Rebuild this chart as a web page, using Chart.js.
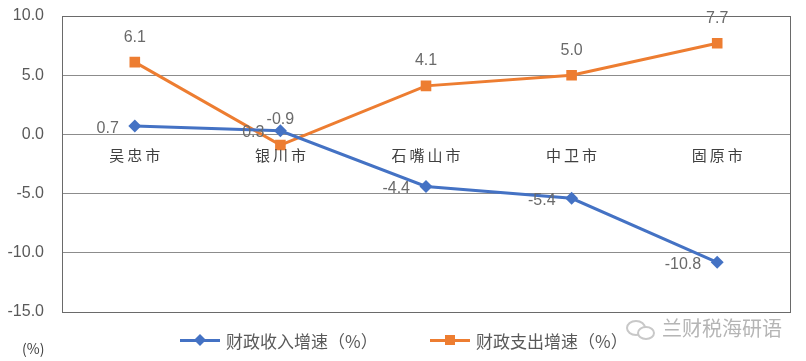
<!DOCTYPE html>
<html lang="zh">
<head>
    <meta charset="UTF-8">
    <title>财政收支增速</title>
    <script src="https://cdn.jsdelivr.net/npm/chart.js"></script>
    <style>
        * { margin: 0; padding: 0; box-sizing: border-box; }
        body {
            width: 806px;
            height: 361px;
            background: #ffffff;
            font-family: 'Liberation Sans', 'Noto Sans CJK SC', sans-serif;
            position: relative;
            overflow: hidden;
        }
        #chart { position: absolute; left: 0; top: 0; }
        .legend-item {
            position: absolute;
            top: 330px;
            height: 20px;
            display: flex;
            align-items: center;
            font-size: 17px;
            color: #595959;
            font-family: 'Noto Sans CJK SC', sans-serif;
        }
        .legend-line {
            position: relative;
            width: 40px;
            height: 3px;
            margin-right: 6px;
        }
        .legend-line span {
            position: absolute;
            left: 15px;
            top: -4px;
            width: 10px;
            height: 10px;
        }
        .unit {
            position: absolute;
            left: 22px;
            top: 338px;
            font-size: 14px;
            color: #404040;
            font-family: 'Noto Sans CJK SC', sans-serif;
        }
        .mark {
            position: absolute;
            left: 662px;
            top: 313px;
            font-size: 20px;
            color: #b5b5b5;
            font-family: 'Noto Sans CJK SC', sans-serif;
        }
        .icon {
            position: absolute;
            left: 626px;
            top: 318px;
            width: 32px;
            height: 24px;
        }
        .icon i {
            position: absolute;
            border: 2px solid #c8c8c8;
            border-radius: 50%;
        }
    </style>
</head>
<body>
    <canvas id="chart" width="806" height="361"></canvas>

    <div class="legend-item" style="left:180px">
        <div class="legend-line" style="background:#4472C4">
            <span style="background:#4472C4; transform: rotate(45deg) scale(0.85)"></span>
        </div>
        <span>财政收入增速（%）</span>
    </div>
    <div class="legend-item" style="left:430px">
        <div class="legend-line" style="background:#ED7D31">
            <span style="background:#ED7D31"></span>
        </div>
        <span>财政支出增速（%）</span>
    </div>

    <div class="unit">(%)</div>
    <div class="icon">
        <i style="left:0; top:2px; width:20px; height:16px"></i>
        <i style="left:11px; top:8px; width:18px; height:14px; background:#fff"></i>
    </div>
    <div class="mark">兰财税海研语</div>

    <script>
        const cities = ['吴忠市', '银川市', '石嘴山市', '中卫市', '固原市'];
        const incomeGrowth = [0.7, 0.3, -4.4, -5.4, -10.8];
        const spendGrowth = [6.1, -0.9, 4.1, 5.0, 7.7];
        const yMin = -15;
        const yMax = 10;
        const yStep = 5;

        // plot frame around the chart area
        const framePlugin = {
            id: 'frame',
            beforeDatasetsDraw(chart) {
                const { ctx, chartArea: a } = chart;
                ctx.save();
                ctx.strokeStyle = '#6a6a6a';
                ctx.lineWidth = 1;
                ctx.strokeRect(Math.round(a.left) + 0.5, Math.round(a.top) + 0.5,
                    Math.round(a.right - a.left), Math.round(a.bottom - a.top));
                ctx.restore();
            }
        };

        // category names sit just under the zero line
        const catLabels = {
            id: 'catLabels',
            afterDraw(chart) {
                const { ctx, scales } = chart;
                const y0 = scales.y.getPixelForValue(0) + 21;
                ctx.save();
                ctx.font = '15px "Noto Sans CJK SC", sans-serif';
                ctx.fillStyle = '#404040';
                ctx.textAlign = 'center';
                ctx.textBaseline = 'middle';
                if ('letterSpacing' in ctx) ctx.letterSpacing = '3px';
                cities.forEach((c, i) => {
                    ctx.fillText(c, scales.x.getPixelForValue(i) + 1.5, y0);
                });
                ctx.restore();
            }
        };

        // value labels: income to the left, spending above
        const valueLabels = {
            id: 'valueLabels',
            afterDatasetsDraw(chart) {
                const { ctx } = chart;
                ctx.save();
                ctx.font = '16px "Liberation Sans", sans-serif';
                ctx.fillStyle = '#6a6a6a';
                const inc = chart.getDatasetMeta(0).data;
                ctx.textAlign = 'right';
                ctx.textBaseline = 'middle';
                inc.forEach((p, i) => {
                    ctx.fillText(incomeGrowth[i].toFixed(1), p.x - 16, p.y + 2);
                });
                const sp = chart.getDatasetMeta(1).data;
                ctx.textAlign = 'center';
                sp.forEach((p, i) => {
                    ctx.fillText(spendGrowth[i].toFixed(1), p.x, p.y - 25);
                });
                ctx.restore();
            }
        };

        new Chart(document.getElementById('chart'), {
            type: 'line',
            data: {
                labels: cities,
                datasets: [{
                    label: '财政收入增速（%）',
                    data: incomeGrowth,
                    borderColor: '#4472C4',
                    backgroundColor: '#4472C4',
                    borderWidth: 3,
                    pointStyle: 'rectRot',
                    pointRadius: 6.5,
                    pointBorderWidth: 0,
                    tension: 0
                }, {
                    label: '财政支出增速（%）',
                    data: spendGrowth,
                    borderColor: '#ED7D31',
                    backgroundColor: '#ED7D31',
                    borderWidth: 3,
                    pointStyle: 'rect',
                    pointRadius: 7.5,
                    pointBorderWidth: 0,
                    tension: 0
                }]
            },
            options: {
                responsive: false,
                animation: false,
                layout: { padding: { left: 0, right: 16, top: 16, bottom: 49 } },
                plugins: {
                    legend: { display: false },
                    tooltip: { enabled: false }
                },
                scales: {
                    x: {
                        type: 'category',
                        offset: true,
                        display: false
                    },
                    y: {
                        min: yMin,
                        max: yMax,
                        ticks: {
                            stepSize: yStep,
                            padding: 0,
                            color: '#595959',
                            font: { size: 16, family: '"Liberation Sans", sans-serif' },
                            callback: v => v.toFixed(1)
                        },
                        grid: {
                            color: '#8c8c8c',
                            lineWidth: 1,
                            drawTicks: true,
                            tickLength: 18,
                            tickColor: 'rgba(0,0,0,0)'
                        },
                        border: { display: false },
                        afterFit(scale) { scale.width = 62; }
                    }
                }
            },
            plugins: [framePlugin, catLabels, valueLabels]
        });
    </script>
</body>
</html>
